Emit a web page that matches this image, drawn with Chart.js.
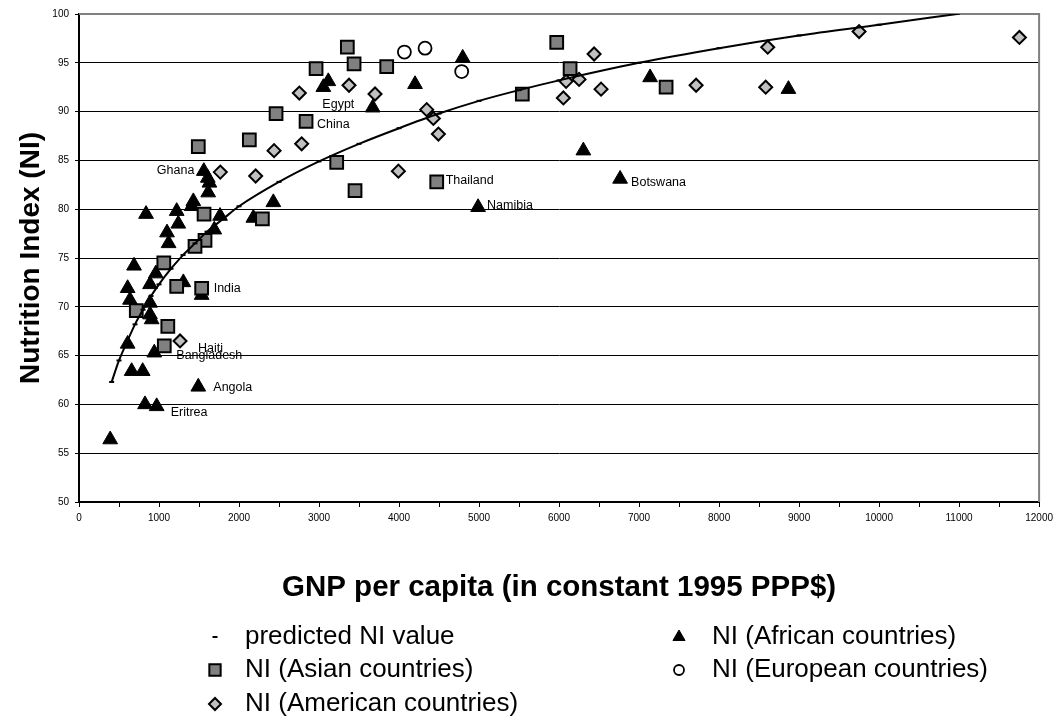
<!DOCTYPE html>
<html>
<head>
<meta charset="utf-8">
<title>Nutrition Index vs GNP per capita</title>
<script src="https://cdn.jsdelivr.net/npm/chart.js@4.4.1/dist/chart.umd.min.js"></script>
<style>
  html, body { margin: 0; padding: 0; background: #fff; }
  #wrap { width: 1058px; height: 716px; position: relative; }
</style>
</head>
<body>
<div id="wrap"><canvas id="NIChart"></canvas></div>
<script>
// predicted NI value (regression curve)
const predGnp = [408, 500, 600, 700, 800, 900, 1000, 1150, 1300, 1450, 1600, 1800, 2000, 2500, 3000, 3500,
                 4000, 4500, 5000, 5500, 6000, 7000, 8000, 9000, 10000, 10975];
const predNi = [62.3, 64.5, 66.4, 68.2, 69.7, 71.1, 72.3, 73.9, 75.3, 76.5, 77.7, 79.0, 80.3, 82.8, 84.9, 86.7,
                88.3, 89.8, 91.1, 92.2, 93.2, 95.0, 96.5, 97.8, 98.9, 100.0];

// NI (Asian countries)
const asiaGnp = [1491, 2129, 2463, 2838, 2963, 3354, 3438, 3221, 3450, 1563, 1575, 1450, 2292, 3846, 4471,
                 5541, 5971, 6138, 7338, 1060, 1221, 1533, 716, 1110, 1066];
const asiaNi = [86.4, 87.1, 89.8, 89.0, 94.4, 96.6, 94.9, 84.8, 81.9, 79.5, 76.8, 76.2, 79.0, 94.6, 82.8,
                91.8, 97.1, 94.4, 92.5, 74.5, 72.1, 71.9, 69.6, 68.0, 66.0];

// NI (American countries)
const americaGnp = [1766, 2208, 2438, 2783, 2754, 3375, 3700, 3992, 4346, 4429, 4492, 6054, 6088, 6250, 6438,
                    6525, 7713, 8608, 8583, 9750, 11754, 1263];
const americaNi = [83.8, 83.4, 86.0, 86.7, 91.9, 92.7, 91.8, 83.9, 90.2, 89.3, 87.7, 91.4, 93.1, 93.3, 95.9,
                   92.3, 92.7, 96.6, 92.5, 98.2, 97.6, 66.5];

// NI (African countries)
const africaGnp = [390, 608, 688, 637, 608, 658, 796, 825, 971, 1491, 941, 888, 908, 888, 888, 960, 1304, 1533,
                   1100, 1120, 1560, 1610, 1630, 1615, 1429, 1408, 838, 1221, 1241, 1763, 1691, 2179, 2429,
                   3054, 3116, 3671, 4200, 4796, 4988, 6304, 6763, 7138, 8867];
const africaNi = [56.4, 71.9, 74.2, 70.7, 66.2, 63.4, 63.4, 60.0, 59.8, 61.8, 65.3, 69.2, 68.7, 70.4, 72.3, 73.4, 72.5, 71.2,
                  77.6, 76.5, 83.9, 83.2, 82.7, 81.7, 80.8, 80.3, 79.5, 79.8, 78.5, 79.3, 77.9, 79.1, 80.7,
                  92.5, 93.1, 90.4, 92.8, 95.5, 80.2, 86.0, 83.1, 93.5, 92.3];

// NI (European countries)
const europeGnp = [4067, 4325, 4783];
const europeNi = [96.1, 96.5, 94.1];

// named countries: [name, series, index in that series]
const countryNames = ['Egypt', 'China', 'Ghana', 'Thailand', 'Namibia', 'Botswana',
                      'India', 'Haiti', 'Bangladesh', 'Angola', 'Eritrea'];
const nameSeries = ['africa', 'asia', 'africa', 'asia', 'africa', 'africa',
                    'asia', 'america', 'asia', 'africa', 'africa'];
const nameIndex = [33, 3, 20, 14, 38, 40, 21, 21, 24, 9, 8];
// label offsets in pixels from the marker (left edge, middle of text)
const nameOffset = [[-1, 17], [11, 3], [-47, -1], [9, -1], [9, -2], [11, 4],
                    [12, 0], [18, 8], [12, 10], [15, 1], [14, 6]];

const FONT = 'Liberation Sans, Arial, Helvetica, sans-serif';
Chart.defaults.font.family = FONT;
Chart.defaults.color = '#000';

const pts = (xs, ys) => xs.map((x, i) => ({x: x, y: ys[i]}));
const seriesData = {
  asia: pts(asiaGnp, asiaNi),
  america: pts(americaGnp, americaNi),
  africa: pts(africaGnp, africaNi),
  europe: pts(europeGnp, europeNi)
};

function drawMarker(ctx, ds, x, y, r) {
  ctx.save();
  ctx.fillStyle = ds.pointBackgroundColor;
  ctx.strokeStyle = ds.pointBorderColor;
  ctx.lineWidth = ds.pointBorderWidth;
  if (Chart.helpers && Chart.helpers.drawPoint) {
    Chart.helpers.drawPoint(ctx, {pointStyle: ds.pointStyle, radius: r, rotation: 0,
      borderWidth: ds.pointBorderWidth}, x, y);
  }
  ctx.restore();
}

const plotFrame = {
  id: 'plotFrame',
  beforeDatasetsDraw(chart) {
    const a = chart.chartArea, ctx = chart.ctx;
    ctx.save();
    ctx.strokeStyle = '#808080';
    ctx.lineWidth = 2;
    ctx.beginPath();
    ctx.moveTo(a.left, a.top);
    ctx.lineTo(a.right, a.top);
    ctx.lineTo(a.right, a.bottom);
    ctx.stroke();
    ctx.restore();
  }
};

const countryLabels = {
  id: 'countryLabels',
  afterDatasetsDraw(chart) {
    const ctx = chart.ctx, xs = chart.scales.x, ys = chart.scales.y;
    ctx.save();
    ctx.font = '12.5px ' + FONT;
    ctx.fillStyle = '#000';
    ctx.textAlign = 'left';
    ctx.textBaseline = 'middle';
    countryNames.forEach((name, i) => {
      const p = seriesData[nameSeries[i]][nameIndex[i]];
      const px = xs.getPixelForValue(p.x) + nameOffset[i][0];
      const py = ys.getPixelForValue(p.y) + nameOffset[i][1];
      ctx.fillText(name, px, py);
    });
    ctx.restore();
  }
};

// two-column legend under the axis title
const legendSlots = [[215, 245, 637], [215, 245, 670], [215, 245, 704], [679, 712, 637], [679, 712, 670]];
const legendSizes = [2.5, 8, 6, 7, 5];
const bottomLegend = {
  id: 'bottomLegend',
  afterDraw(chart) {
    const ctx = chart.ctx;
    chart.data.datasets.forEach((ds, i) => {
      const [mx, tx, y] = legendSlots[i];
      drawMarker(ctx, ds, mx, y, legendSizes[i]);
      ctx.save();
      ctx.font = '26px ' + FONT;
      ctx.fillStyle = '#000';
      ctx.textAlign = 'left';
      ctx.textBaseline = 'middle';
      ctx.fillText(ds.label, tx, y);
      ctx.restore();
    });
  }
};

const ctx = document.getElementById('NIChart').getContext('2d');
const niChart = new Chart(ctx, {
  type: 'scatter',
  data: {
    datasets: [{
      label: 'predicted NI value',
      data: pts(predGnp, predNi),
      showLine: true,
      cubicInterpolationMode: 'monotone',
      borderColor: '#000',
      borderWidth: 2,
      pointStyle: 'line',
      pointRadius: 2.5,
      pointBorderWidth: 2,
      pointBorderColor: '#000',
      pointBackgroundColor: '#000'
    }, {
      label: 'NI (Asian countries)',
      data: seriesData.asia,
      pointStyle: 'rect',
      pointRadius: 9,
      pointBorderWidth: 2,
      pointBorderColor: '#000',
      pointBackgroundColor: '#808080'
    }, {
      label: 'NI (American countries)',
      data: seriesData.america,
      pointStyle: 'rectRot',
      pointRadius: 6.5,
      pointBorderWidth: 2,
      pointBorderColor: '#000',
      pointBackgroundColor: '#c0c0c0'
    }, {
      label: 'NI (African countries)',
      data: seriesData.africa,
      pointStyle: 'triangle',
      pointRadius: 8.5,
      pointBorderWidth: 1,
      pointBorderColor: '#000',
      pointBackgroundColor: '#000'
    }, {
      label: 'NI (European countries)',
      data: seriesData.europe,
      pointStyle: 'circle',
      pointRadius: 6.5,
      pointBorderWidth: 1.8,
      pointBorderColor: '#000',
      pointBackgroundColor: '#fff'
    }]
  },
  options: {
    responsive: true,
    maintainAspectRatio: false,
    animation: false,
    layout: { padding: { left: 0, top: 14, right: 16, bottom: 110 } },
    plugins: {
      legend: { display: false },
      tooltip: { enabled: false }
    },
    scales: {
      x: {
        type: 'linear',
        min: 0,
        max: 12000,
        afterFit: (s) => { s.height = 104; },
        ticks: {
          stepSize: 500,
          autoSkip: false,
          maxRotation: 0,
          padding: 5,
          font: { size: 10 },
          callback: (v) => (v % 1000 === 0 ? String(v) : '')
        },
        grid: { drawOnChartArea: false, drawTicks: true, tickLength: 5, color: '#000' },
        border: { color: '#000', width: 2 },
        title: {
          display: true,
          text: 'GNP per capita (in constant 1995 PPP$)',
          font: { size: 29.5, weight: 'bold' },
          padding: { top: 0, bottom: 0 }
        }
      },
      y: {
        min: 50,
        max: 100,
        afterFit: (s) => { s.width = 79; },
        ticks: { stepSize: 5, padding: 6, font: { size: 10 } },
        grid: { color: '#000', lineWidth: 1, tickLength: 4 },
        border: { color: '#000', width: 2 },
        title: {
          display: true,
          text: 'Nutrition Index (NI)',
          font: { size: 28, weight: 'bold' },
          padding: { top: 14, bottom: 0 }
        }
      }
    }
  },
  plugins: [plotFrame, countryLabels, bottomLegend]
});
</script>
</body>
</html>
